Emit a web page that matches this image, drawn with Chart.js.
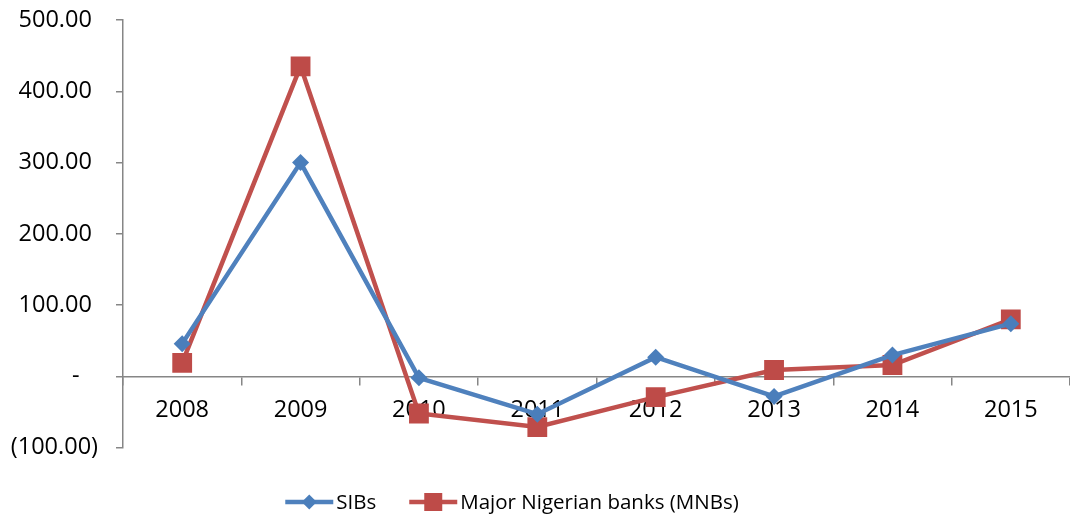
<!DOCTYPE html>
<html><head><meta charset="utf-8">
<script src="https://cdn.jsdelivr.net/npm/chart.js@4/dist/chart.umd.min.js"></script>
<style>html,body{margin:0;padding:0;background:#fff;overflow:hidden}</style>
</head><body>
<canvas id="c" width="1070" height="515" style="display:block;width:1070px;height:515px"></canvas>
<script>
const categories = ['2008', '2009', '2010', '2011', '2012', '2013', '2014', '2015'];
const sibsValues = [46, 300, -2, -53, 27, -28, 30, 74];
const mnbsValues = [19, 435, -52, -71, -29, 9, 16, 80];
const seriesNames = ['SIBs', 'Major Nigerian banks (MNBs)'];
const yTickValues = [-100, 0, 100, 200, 300, 400, 500];

const AXIS_COLOR = '#868686';
const FONT = 'Open Sans';

function fmtTick(v) {
  if (v === 0) return '-   ';
  if (v < 0) return '(' + Math.abs(v).toFixed(2) + ')';
  return v.toFixed(2) + ' ';
}

function zeroPadding(s) {
  s.paddingTop = 0; s.paddingBottom = 0; s.paddingLeft = 0; s.paddingRight = 0;
}

const legendPlugin = {
  id: 'excelLegend',
  afterDraw(chart) {
    const ctx = chart.ctx;
    ctx.save();
    ctx.font = '20.5px "' + FONT + '"';
    const lineW = 48, gapText = 3, gapItem = 33;
    const items = chart.data.datasets.map(ds => ({ ds, w: ctx.measureText(ds.label).width }));
    const total = items.reduce((a, it) => a + lineW + gapText + it.w, 0) + gapItem * (items.length - 1);
    let x = 512 - total / 2;
    const y = 502;
    items.forEach(it => {
      const ds = it.ds;
      ctx.strokeStyle = ds.borderColor;
      ctx.lineWidth = 4.5;
      ctx.beginPath();
      ctx.moveTo(x, y);
      ctx.lineTo(x + lineW, y);
      ctx.stroke();
      const cx = x + lineW / 2;
      ctx.fillStyle = ds.pointBackgroundColor;
      ctx.beginPath();
      if (ds.pointStyle === 'rectRot') {
        const r = 7.5;
        ctx.moveTo(cx - r, y); ctx.lineTo(cx, y - r); ctx.lineTo(cx + r, y); ctx.lineTo(cx, y + r);
        ctx.closePath();
      } else {
        const s = 9;
        ctx.rect(cx - s, y - s, 2 * s, 2 * s);
      }
      ctx.fill();
      ctx.fillStyle = '#000';
      ctx.textBaseline = 'middle';
      ctx.textAlign = 'left';
      ctx.fillText(ds.label, x + lineW + gapText, y + 1);
      x += lineW + gapText + it.w + gapItem;
    });
    ctx.restore();
  }
};

new Chart(document.getElementById('c'), {
  type: 'line',
  data: {
    labels: categories,
    datasets: [
      {
        label: seriesNames[0],
        data: sibsValues,
        borderColor: '#4F81BD',
        backgroundColor: '#4F81BD',
        borderWidth: 4.5,
        tension: 0,
        pointStyle: 'rectRot',
        pointRadius: 8.5,
        pointHoverRadius: 8.5,
        pointBorderWidth: 0,
        pointBackgroundColor: '#4A7EBB'
      },
      {
        label: seriesNames[1],
        data: mnbsValues,
        borderColor: '#C0504D',
        backgroundColor: '#C0504D',
        borderWidth: 4.5,
        tension: 0,
        pointStyle: 'rect',
        pointRadius: 14,
        pointHoverRadius: 14,
        pointBorderWidth: 0,
        pointBackgroundColor: '#BE4B48'
      }
    ]
  },
  options: {
    responsive: false,
    animation: false,
    events: [],
    layout: { autoPadding: false, padding: { left: 0, right: 0, top: 20, bottom: 67.3 } },
    plugins: { legend: { display: false }, tooltip: { enabled: false } },
    scales: {
      x: {
        type: 'category',
        offset: true,
        position: { y: 0 },
        grid: { display: true, drawOnChartArea: false, drawTicks: true, tickLength: 8, offset: true, color: AXIS_COLOR, lineWidth: 1.5 },
        border: { display: true, color: AXIS_COLOR, width: 1.5 },
        ticks: { font: { family: FONT, size: 23.5 }, color: '#000', padding: 12, maxRotation: 0, minRotation: 0, autoSkip: false },
        afterFit: s => { s.height = 0; zeroPadding(s); }
      },
      y: {
        type: 'linear',
        position: 'left',
        min: -100,
        max: 500,
        afterBuildTicks: s => { s.ticks = yTickValues.map(v => ({ value: v })); },
        afterFit: s => { s.width = 123; zeroPadding(s); },
        grid: { display: true, drawOnChartArea: false, drawTicks: true, tickLength: 7, color: AXIS_COLOR, lineWidth: 1.5 },
        border: { display: true, color: AXIS_COLOR, width: 1.5 },
        ticks: { font: { family: FONT, size: 23.5 }, color: '#000', padding: 18, callback: v => fmtTick(v) }
      }
    }
  },
  plugins: [legendPlugin]
});
</script>
</body></html>
